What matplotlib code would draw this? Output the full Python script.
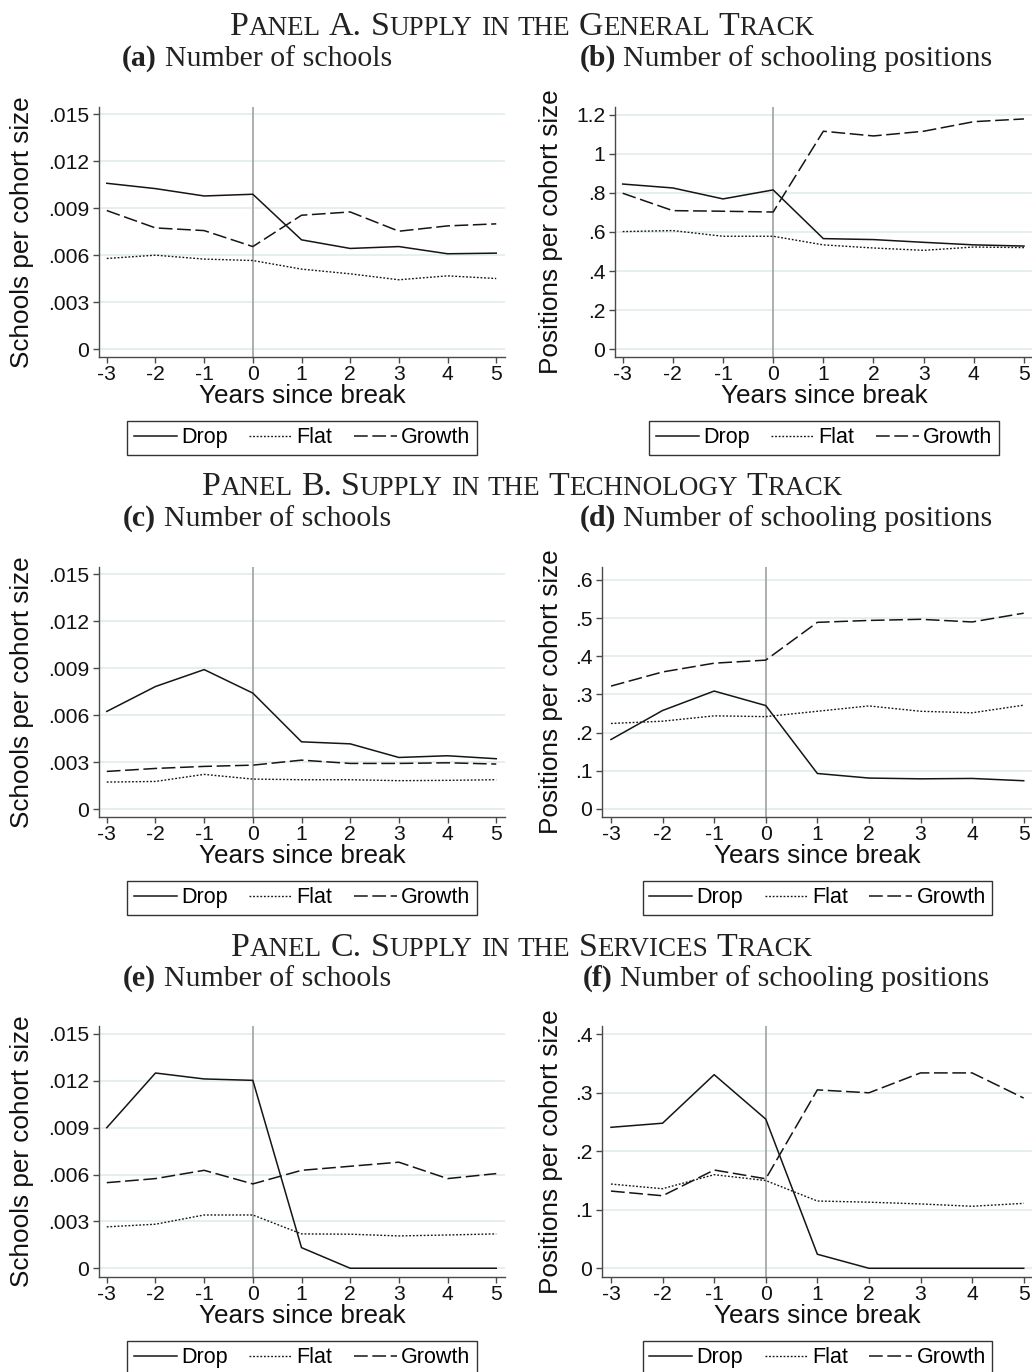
import matplotlib
matplotlib.use("Agg")
import matplotlib.pyplot as plt

W, H, DPI = 1032, 1372, 100

years = [-3, -2, -1, 0, 1, 2, 3, 4, 5]
series_names = ["Drop", "Flat", "Growth"]

# Panel A: general track
gen_schools_drop = [0.01058, 0.01024, 0.00977, 0.00988, 0.00697, 0.00642, 0.00654, 0.00608, 0.00612]
gen_schools_flat = [0.00578, 0.00599, 0.00574, 0.00565, 0.00510, 0.00480, 0.00442, 0.00467, 0.00450]
gen_schools_growth = [0.00884, 0.00773, 0.00756, 0.00654, 0.00854, 0.00875, 0.00752, 0.00786, 0.00799]
gen_pos_drop = [0.845, 0.825, 0.769, 0.815, 0.566, 0.561, 0.547, 0.534, 0.528]
gen_pos_flat = [0.602, 0.607, 0.578, 0.578, 0.534, 0.518, 0.506, 0.523, 0.520]
gen_pos_growth = [0.798, 0.709, 0.706, 0.702, 1.115, 1.091, 1.115, 1.164, 1.178]

# Panel B: technology track
tech_schools_drop = [0.00623, 0.00782, 0.00890, 0.00740, 0.00429, 0.00416, 0.00329, 0.00340, 0.00321]
tech_schools_flat = [0.00172, 0.00176, 0.00221, 0.00191, 0.00187, 0.00187, 0.00181, 0.00183, 0.00187]
tech_schools_growth = [0.00240, 0.00259, 0.00272, 0.00280, 0.00312, 0.00291, 0.00291, 0.00295, 0.00287]
tech_pos_drop = [0.182, 0.258, 0.309, 0.271, 0.093, 0.081, 0.079, 0.080, 0.074]
tech_pos_flat = [0.224, 0.230, 0.244, 0.242, 0.256, 0.270, 0.256, 0.252, 0.272]
tech_pos_growth = [0.322, 0.359, 0.382, 0.390, 0.489, 0.494, 0.497, 0.490, 0.513]

# Panel C: services track
serv_schools_drop = [0.00900, 0.01250, 0.01212, 0.01203, 0.00132, 0.0, 0.0, 0.0, 0.0]
serv_schools_flat = [0.00265, 0.00282, 0.00341, 0.00341, 0.00220, 0.00218, 0.00207, 0.00213, 0.00220]
serv_schools_growth = [0.00548, 0.00574, 0.00627, 0.00540, 0.00627, 0.00653, 0.00679, 0.00574, 0.00606]
serv_pos_drop = [0.241, 0.248, 0.331, 0.255, 0.024, 0.0, 0.0, 0.0, 0.0]
serv_pos_flat = [0.144, 0.136, 0.160, 0.150, 0.115, 0.113, 0.110, 0.106, 0.111]
serv_pos_growth = [0.132, 0.124, 0.168, 0.153, 0.305, 0.300, 0.334, 0.334, 0.291]

schools_ticks = [0, 0.003, 0.006, 0.009, 0.012, 0.015]
schools_ticklabels = ["0", ".003", ".006", ".009", ".012", ".015"]
gen_pos_ticks = [0, 0.2, 0.4, 0.6, 0.8, 1.0, 1.2]
gen_pos_ticklabels = ["0", ".2", ".4", ".6", ".8", "1", "1.2"]
tech_pos_ticks = [0, 0.1, 0.2, 0.3, 0.4, 0.5, 0.6]
tech_pos_ticklabels = ["0", ".1", ".2", ".3", ".4", ".5", ".6"]
serv_pos_ticks = [0, 0.1, 0.2, 0.3, 0.4]
serv_pos_ticklabels = ["0", ".1", ".2", ".3", ".4"]

panel_titles = ["Panel A. Supply in the General Track",
                "Panel B. Supply in the Technology Track",
                "Panel C. Supply in the Services Track"]

plt.rcParams["font.family"] = ["Liberation Sans", "DejaVu Sans"]

INK = "#151515"
AXCOL = "#4a4a4a"


def fx(px):
    return px / W


def fy(py):
    return 1 - py / H


def small_caps(fig, text, cx, base, size, ratio=0.8):
    """Fake small caps by drawing lowercase runs as smaller capitals."""
    renderer = fig.canvas.get_renderer()
    space = 0.25 * size * DPI / 72
    placed = []
    x = 0
    for i, word in enumerate(text.split(" ")):
        if i:
            x += space
        runs = []
        for ch in word:
            sz = size * ratio if ch.islower() else size
            if runs and runs[-1][1] == sz:
                runs[-1][0] += ch.upper()
            else:
                runs.append([ch.upper(), sz])
        for s, sz in runs:
            t = fig.text(0, fy(base), s, fontsize=sz, family="Liberation Serif",
                         va="baseline", ha="left", color="#222222")
            placed.append((t, x))
            x += t.get_window_extent(renderer).width
    left = cx - x / 2
    for t, off in placed:
        t.set_x(fx(left + off))


def subtitle(fig, letter, text, cx, base, size=21.5):
    renderer = fig.canvas.get_renderer()
    a = fig.text(0, fy(base), f"({letter})", fontsize=size, family="Liberation Serif",
                 weight="bold", va="baseline", ha="left", color="#222222")
    b = fig.text(0, fy(base), text, fontsize=size, family="Liberation Serif",
                 va="baseline", ha="left", color="#222222")
    wa = a.get_window_extent(renderer).width
    wb = b.get_window_extent(renderer).width
    gap = 0.25 * size * DPI / 72
    left = cx - (wa + gap + wb) / 2
    a.set_x(fx(left))
    b.set_x(fx(left + wa + gap))


def draw_panel(fig, box, xlim, ylim, ticks, ticklabels, ylabel, ylab_right,
               drop, flat, growth, legend_top):
    l, t, r, b = box
    ax = fig.add_axes([fx(l), fy(b), (r - l) / W, (b - t) / H])
    ax.plot(years, drop, color=INK, lw=1.1, ls="-")
    ax.plot(years, flat, color=INK, lw=1.0, ls=(0, (1.3, 1.3)))
    ax.plot(years, growth, color=INK, lw=1.1, ls=(0, (9, 3)))
    ax.axvline(0, color="#a8a8a8", lw=1.3, zorder=1.5)
    ax.set_xlim(*xlim)
    ax.set_ylim(*ylim)
    ax.set_xticks(years)
    ax.set_xticklabels([str(y) for y in years])
    ax.set_yticks(ticks)
    ax.set_yticklabels(ticklabels)
    ax.grid(axis="y", color="#e2ecec", lw=1.2)
    ax.set_axisbelow(True)
    for side in ["top", "right"]:
        ax.spines[side].set_visible(False)
    for side in ["left", "bottom"]:
        ax.spines[side].set_color(AXCOL)
        ax.spines[side].set_linewidth(1.0)
    ax.tick_params(length=4, width=1, color=AXCOL, labelsize=15.2, labelcolor="#111111")
    ax.tick_params(axis="x", pad=2)
    ax.tick_params(axis="y", pad=3)
    ax.set_xlabel("Years since break", fontsize=18.8, color="#111111")
    ax.set_ylabel(ylabel, fontsize=18.8, color="#111111")
    ax.xaxis.set_label_coords(0.5, -27 / (b - t))
    ax.yaxis.set_label_coords((ylab_right - l) / (r - l), 0.5)
    leg = fig.legend(ax.get_lines()[:3], series_names, loc="upper center",
                     bbox_to_anchor=(fx((l + r) / 2), fy(legend_top)),
                     bbox_transform=fig.transFigure, ncol=3, frameon=True,
                     fancybox=False, edgecolor="black", fontsize=15.5,
                     handlelength=2.0, handletextpad=0.2, columnspacing=1.0,
                     borderpad=0.3, borderaxespad=0)
    leg.get_frame().set_linewidth(1.0)
    return ax


def main():
    fig = plt.figure(figsize=(W / DPI, H / DPI), dpi=DPI)
    fig.patch.set_facecolor("white")

    sch_xlim = (-3.16, 5.18)
    draw_panel(fig, (99, 107, 505, 357), sch_xlim, (-0.00051, 0.01545),
               schools_ticks, schools_ticklabels, "Schools per cohort size", 34,
               gen_schools_drop, gen_schools_flat, gen_schools_growth, 421)
    draw_panel(fig, (615, 107, 1033, 357), (-3.153, 5.18), (-0.0394, 1.239),
               gen_pos_ticks, gen_pos_ticklabels, "Positions per cohort size", 563,
               gen_pos_drop, gen_pos_flat, gen_pos_growth, 421)
    draw_panel(fig, (99, 567, 505, 817), sch_xlim, (-0.00051, 0.01545),
               schools_ticks, schools_ticklabels, "Schools per cohort size", 34,
               tech_schools_drop, tech_schools_flat, tech_schools_growth, 881)
    draw_panel(fig, (602, 567, 1033, 817), (-3.174, 5.18), (-0.021, 0.634),
               tech_pos_ticks, tech_pos_ticklabels, "Positions per cohort size", 563,
               tech_pos_drop, tech_pos_flat, tech_pos_growth, 881)
    draw_panel(fig, (99, 1026, 505, 1277), sch_xlim, (-0.00056, 0.01551),
               schools_ticks, schools_ticklabels, "Schools per cohort size", 34,
               serv_schools_drop, serv_schools_flat, serv_schools_growth, 1341)
    draw_panel(fig, (602, 1026, 1033, 1277), (-3.174, 5.18), (-0.0149, 0.4142),
               serv_pos_ticks, serv_pos_ticklabels, "Positions per cohort size", 563,
               serv_pos_drop, serv_pos_flat, serv_pos_growth, 1341)

    for title, base in zip(panel_titles, [35, 495, 956]):
        small_caps(fig, title, 522, base, 24.4)
    for (letter, text, cx), base in zip(
            [("a", "Number of schools", 257), ("b", "Number of schooling positions", 786),
             ("c", "Number of schools", 257), ("d", "Number of schooling positions", 786),
             ("e", "Number of schools", 257), ("f", "Number of schooling positions", 786)],
            [66, 66, 526, 526, 986, 986]):
        subtitle(fig, letter, text, cx, base)

    fig.savefig("out.png", dpi=DPI)


if __name__ == "__main__":
    main()
